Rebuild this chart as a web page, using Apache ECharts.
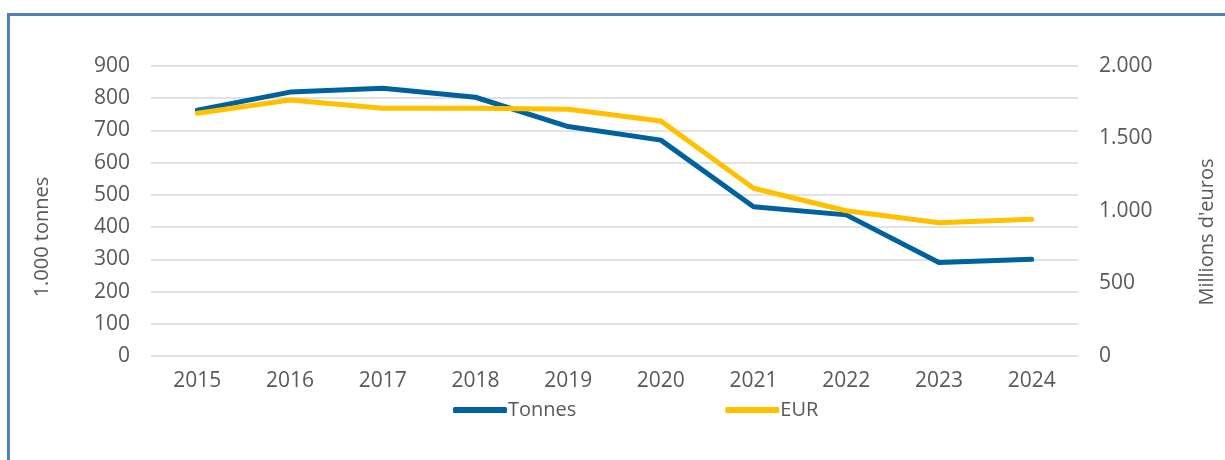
<!DOCTYPE html>
<html>
<head>
<meta charset="utf-8">
<script src="https://cdn.jsdelivr.net/npm/echarts@6/dist/echarts.min.js"></script>
<style>
  html, body { margin: 0; padding: 0; background: #ffffff; }
  #chart { width: 1225px; height: 460px; }
</style>
</head>
<body>
<div id="chart"></div>
<script>
// Years on the category axis
const years = ['2015', '2016', '2017', '2018', '2019', '2020', '2021', '2022', '2023', '2024'];
// Volume, thousand tonnes (left axis)
const tonnes = [763, 819, 831, 803, 712, 670, 463, 438, 290, 300];
// Value, millions of euros (right axis)
const eur = [1674, 1766, 1708, 1708, 1701, 1621, 1157, 1002, 919, 943];

const seriesNames = ['Tonnes', 'EUR'];
const leftAxisName = '1.000 tonnes';
const rightAxisName = "Millions d'euros";

const textColor = '#595959';
const fontFamily = '"Open Sans", "DejaVu Sans", sans-serif';

// European-style thousands separator
function fmt(v) {
  return String(v).replace(/\B(?=(\d{3})+(?!\d))/g, '.');
}

const chart = echarts.init(document.getElementById('chart'), null, { renderer: 'canvas' });

chart.setOption({
  animation: false,
  textStyle: { fontFamily: fontFamily },
  grid: { left: 151, right: 147, top: 66, bottom: 104, containLabel: false },
  legend: {
    data: seriesNames,
    top: 395,
    left: 448,
    itemGap: 149,
    itemWidth: 54,
    itemHeight: 6,
    icon: 'roundRect',
    textStyle: { color: textColor, fontSize: 20, fontFamily: fontFamily, padding: [0, 0, 0, -4] }
  },
  xAxis: {
    type: 'category',
    data: years,
    boundaryGap: true,
    axisLine: { show: false },
    axisTick: { show: false },
    axisLabel: { color: textColor, fontSize: 21, margin: 15, fontFamily: fontFamily }
  },
  yAxis: [
    {
      type: 'value',
      min: 0,
      max: 900,
      interval: 100,
      axisLine: { show: false },
      axisTick: { show: false },
      axisLabel: { color: textColor, fontSize: 21, margin: 21, fontFamily: fontFamily },
      splitLine: { show: true, lineStyle: { color: '#d9d9d9', width: 1.5 } }
    },
    {
      type: 'value',
      min: 0,
      max: 2000,
      interval: 500,
      position: 'right',
      axisLine: { show: false },
      axisTick: { show: false },
      axisLabel: { color: textColor, fontSize: 21, margin: 21, fontFamily: fontFamily, formatter: fmt },
      splitLine: { show: false }
    }
  ],
  series: [
    {
      name: seriesNames[0],
      type: 'line',
      data: tonnes,
      yAxisIndex: 0,
      symbol: 'none',
      lineStyle: { color: '#00619f', width: 5, cap: 'round', join: 'round' },
      itemStyle: { color: '#00619f' },
      z: 2
    },
    {
      name: seriesNames[1],
      type: 'line',
      data: eur,
      yAxisIndex: 1,
      symbol: 'none',
      lineStyle: { color: '#ffc000', width: 5, cap: 'round', join: 'round' },
      itemStyle: { color: '#ffc000' },
      z: 3
    }
  ],
  graphic: [
    {
      type: 'rect',
      shape: { x: 8.5, y: 14.5, width: 1300, height: 600 },
      style: { fill: 'none', stroke: '#4f81bd', lineWidth: 3 },
      silent: true
    },
    {
      type: 'text',
      x: 42,
      y: 237,
      rotation: Math.PI / 2,
      style: {
        text: leftAxisName,
        fill: textColor,
        font: '20px ' + fontFamily,
        align: 'center',
        verticalAlign: 'middle'
      },
      silent: true
    },
    {
      type: 'text',
      x: 1207,
      y: 232,
      rotation: Math.PI / 2,
      style: {
        text: rightAxisName,
        fill: textColor,
        font: '20px ' + fontFamily,
        align: 'center',
        verticalAlign: 'middle'
      },
      silent: true
    }
  ]
});
</script>
</body>
</html>
